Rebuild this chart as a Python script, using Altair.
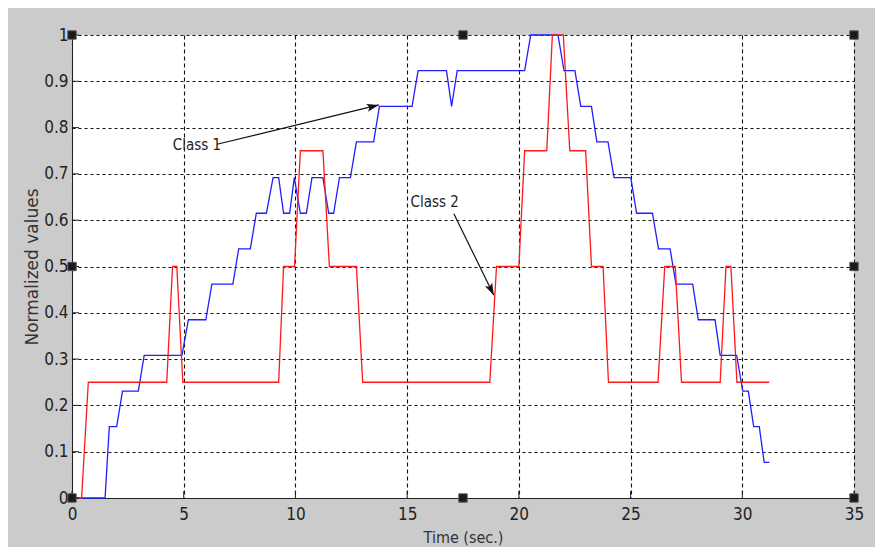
import altair as alt
import pandas as pd

# ---- data ----
blue_t = [0, 1.48, 1.67, 2.0, 2.26, 2.97, 3.23, 4.92, 5.21, 5.99, 6.26, 7.2, 7.46, 7.98,
          8.25, 8.7, 9.0, 9.25, 9.47, 9.74, 9.95, 10.22, 10.49, 10.74, 11.23, 11.49, 11.71,
          11.97, 12.46, 12.73, 13.5, 13.76, 15.22, 15.49, 16.76, 16.99, 17.24, 20.26, 20.53,
          21.75, 22.02, 22.51, 22.77, 23.25, 23.49, 23.99, 24.26, 25.01, 25.27, 25.98, 26.25,
          26.77, 27.03, 27.78, 28.03, 28.78, 29.01, 29.75, 30.02, 30.27, 30.51, 30.76, 30.98, 31.21]
blue_v = [0, 0, 0.154, 0.154, 0.231, 0.231, 0.308, 0.308, 0.385, 0.385, 0.462, 0.462, 0.538, 0.538,
          0.615, 0.615, 0.692, 0.692, 0.615, 0.615, 0.692, 0.615, 0.615, 0.692, 0.692, 0.615, 0.615,
          0.692, 0.692, 0.769, 0.769, 0.846, 0.846, 0.923, 0.923, 0.846, 0.923, 0.923, 1.0,
          1.0, 0.923, 0.923, 0.846, 0.846, 0.769, 0.769, 0.692, 0.692, 0.615, 0.615, 0.538,
          0.538, 0.462, 0.462, 0.385, 0.385, 0.308, 0.308, 0.231, 0.231, 0.154, 0.154, 0.077, 0.077]

red_t = [0, 0.43, 0.73, 4.24, 4.5, 4.69, 4.96, 9.25, 9.47, 9.96, 10.22, 11.23, 11.52, 12.73,
         13.01, 18.7, 19.0, 20.0, 20.26, 21.25, 21.5, 21.99, 22.28, 22.99, 23.25, 23.77, 24.01,
         26.23, 26.53, 27.0, 27.28, 29.01, 29.27, 29.49, 29.76, 31.21]
red_v = [0, 0, 0.25, 0.25, 0.5, 0.5, 0.25, 0.25, 0.5, 0.5, 0.75, 0.75, 0.5, 0.5,
         0.25, 0.25, 0.5, 0.5, 0.75, 0.75, 1.0, 1.0, 0.75, 0.75, 0.5, 0.5, 0.25,
         0.25, 0.5, 0.5, 0.25, 0.25, 0.5, 0.5, 0.25, 0.25]

x_ticks = [0, 5, 10, 15, 20, 25, 30, 35]
y_ticks = [0, 0.1, 0.2, 0.3, 0.4, 0.5, 0.6, 0.7, 0.8, 0.9, 1.0]

ann_text = ["Class 1", "Class 2"]
ann_text_t = [4.51, 15.15]
ann_text_v = [0.762, 0.64]
arrow_t0 = [6.49, 17.09]
arrow_v0 = [0.764, 0.614]
arrow_t1 = [13.73, 18.88]
arrow_v1 = [0.849, 0.438]
arrow_angle = [76, 154]

handle_t = [0, 17.5, 35, 0, 35, 0, 17.5, 35]
handle_v = [1, 1, 1, 0.5, 0.5, 0, 0, 0]

assert len(blue_t) == len(blue_v) and len(red_t) == len(red_v)

# ---- tables ----
blue_df = pd.DataFrame({"t": blue_t, "v": blue_v, "i": range(len(blue_t))})
red_df = pd.DataFrame({"t": red_t, "v": red_v, "i": range(len(red_t))})
txt_df = pd.DataFrame({"t": ann_text_t, "v": ann_text_v, "label": ann_text})
arr_df = pd.DataFrame({"t": arrow_t0, "v": arrow_v0, "t2": arrow_t1, "v2": arrow_v1})
head_df = pd.DataFrame({"t": arrow_t1, "v": arrow_v1, "ang": arrow_angle})
xt_df = pd.DataFrame({"t": x_ticks})
yt_df = pd.DataFrame({"v": y_ticks})
hd_df = pd.DataFrame({"t": handle_t, "v": handle_v})

W, H = 782, 463
NARROW = "Liberation Sans Narrow, Arial Narrow, DejaVu Sans Condensed, Liberation Sans, sans-serif"

xscale = alt.Scale(domain=[0, 35], nice=False, zero=False)
yscale = alt.Scale(domain=[0, 1], nice=False, zero=False)
xaxis = alt.Axis(values=x_ticks, grid=True, gridDash=[4, 3], labelPadding=8, labelFlush=False,
                 titlePadding=7, titleFont=NARROW, titleFontSize=16)
yaxis = alt.Axis(values=y_ticks, grid=True, gridDash=[3, 3], format="~g", labelPadding=4,
                 labelFlush=False, titlePadding=2, titleFont="DejaVu Sans", titleFontSize=17)
X = alt.X("t:Q", scale=xscale, axis=xaxis, title="Time (sec.)")
Y = alt.Y("v:Q", scale=yscale, axis=yaxis, title="Normalized values")

blue = alt.Chart(blue_df).mark_line(color="#1f1fff", strokeWidth=1.3).encode(x=X, y=Y, order="i:Q")
red = alt.Chart(red_df).mark_line(color="#ff1a1a", strokeWidth=1.3).encode(x=X, y=Y, order="i:Q")

arrows = alt.Chart(arr_df).mark_rule(color="#111", strokeWidth=1.2).encode(
    x=X, y=Y, x2="t2:Q", y2="v2:Q")
heads = alt.Chart(head_df).mark_point(
    shape="M0,0L-0.8,2.4L0,1.9L0.8,2.4Z", filled=True, color="#111", opacity=1, size=100
).encode(x=X, y=Y, angle=alt.Angle("ang:Q", scale=None))
texts = alt.Chart(txt_df).mark_text(align="left", baseline="middle", font=NARROW, fontSize=15,
                                    color="#222").encode(x=X, y=Y, text="label:N")

xticks = alt.Chart(xt_df).mark_rule(color="#222", strokeWidth=1).encode(
    x=X, y=alt.value(H), y2=alt.value(H - 7))
yticks = alt.Chart(yt_df).mark_rule(color="#222", strokeWidth=1).encode(
    y=Y, x=alt.value(0), x2=alt.value(7))

handles = alt.Chart(hd_df).mark_square(size=70, color="#1a1a1a", opacity=1,
                                       stroke="#555", strokeWidth=1).encode(x=X, y=Y)

chart = alt.layer(blue, red, arrows, heads, texts, xticks, yticks, handles).properties(
    width=W, height=H, background="#cbcbcb",
    autosize=alt.AutoSizeParams(type="none"),
    padding={"left": 64, "top": 27, "right": 21, "bottom": 49},
).configure_view(fill="white", strokeWidth=0).configure_axis(
    domainColor="#222", domainWidth=1, tickSize=0, gridColor="#111", gridOpacity=1, gridWidth=1.1,
    labelFont=NARROW, labelFontSize=17, labelColor="#222", titleColor="#333",
    titleFontWeight="normal",
)

chart.save("out.html", embed_options={"renderer": "svg", "actions": False})
